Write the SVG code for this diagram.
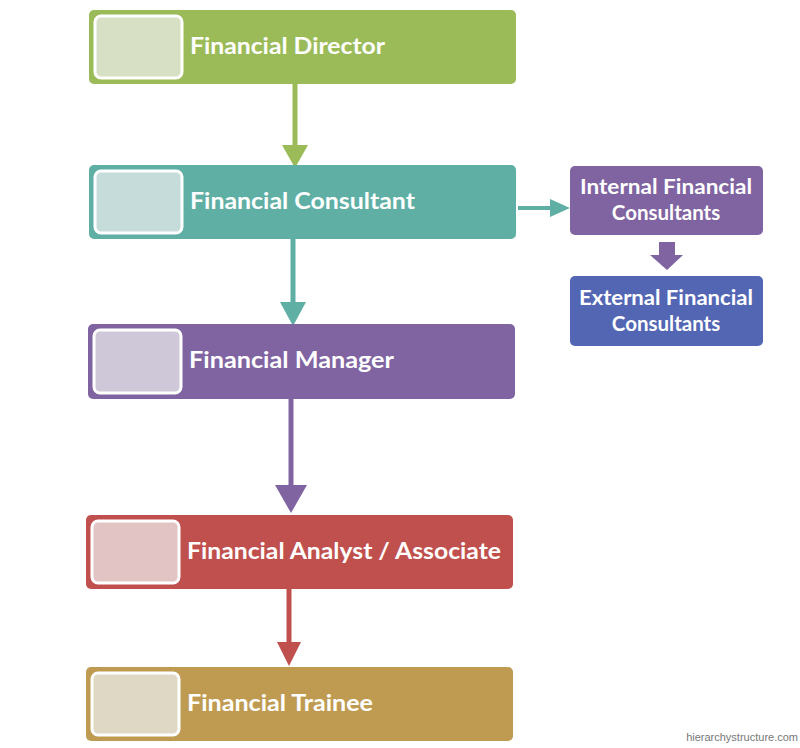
<svg xmlns="http://www.w3.org/2000/svg" width="800" height="748" viewBox="0 0 800 748">
<style>
.t{font-family:Lato,"Open Sans",sans-serif;font-weight:bold;fill:#fff;font-size:23.5px}
.s{font-family:Lato,"Open Sans",sans-serif;font-weight:bold;fill:#fff;font-size:20.5px;text-anchor:middle}
.in{stroke:#fff;stroke-width:3}
</style>
<rect width="800" height="748" fill="#fff"/>
<g id="connectors" stroke-width="5" fill="none">
<line x1="295" y1="84" x2="295" y2="148" stroke="#9BBB59"/><path d="M282,145 L308,145 L295,168 Z" fill="#9BBB59" stroke="none"/>
<line x1="293" y1="239" x2="293" y2="305" stroke="#5FAFA5"/><path d="M280,302 L306,302 L293,326 Z" fill="#5FAFA5" stroke="none"/>
<line x1="291" y1="399" x2="291" y2="490" stroke="#8064A2"/><path d="M275,485 L307,485 L291,513 Z" fill="#8064A2" stroke="none"/>
<line x1="289" y1="589" x2="289" y2="645" stroke="#C0504D"/><path d="M277,642 L301,642 L289,666 Z" fill="#C0504D" stroke="none"/>
<line x1="518" y1="208" x2="552" y2="208" stroke="#5FAFA5" stroke-width="4"/><path d="M550,199 L570,208 L550,217 Z" fill="#5FAFA5" stroke="none"/>
<path d="M659,242 L675,242 L675,255 L683,255 L667,270 L650,255 L659,255 Z" fill="#8064A2" stroke="none"/>
</g>
<g id="n1"><rect x="89" y="10" width="427" height="74" rx="5" fill="#9BBB59"/><rect class="in" x="95" y="16" width="87" height="62" rx="6" fill="#D7E0C5"/><text class="t" x="190" y="54" textLength="195" lengthAdjust="spacingAndGlyphs">Financial Director</text></g>
<g id="n2"><rect x="89" y="165" width="427" height="74" rx="5" fill="#5FAFA5"/><rect class="in" x="95" y="171" width="87" height="62" rx="6" fill="#C5DCDA"/><text class="t" x="190" y="209" textLength="225" lengthAdjust="spacingAndGlyphs">Financial Consultant</text></g>
<g id="n3"><rect x="88" y="324" width="427" height="75" rx="5" fill="#8064A2"/><rect class="in" x="94" y="330" width="87" height="63" rx="6" fill="#CEC8D9"/><text class="t" x="189" y="368" textLength="205" lengthAdjust="spacingAndGlyphs">Financial Manager</text></g>
<g id="n4"><rect x="86" y="515" width="427" height="74" rx="5" fill="#C0504D"/><rect class="in" x="92" y="521" width="87" height="62" rx="6" fill="#E2C4C5"/><text class="t" x="187" y="559" textLength="314" lengthAdjust="spacingAndGlyphs">Financial Analyst / Associate</text></g>
<g id="n5"><rect x="86" y="667" width="427" height="74" rx="5" fill="#BF9B52"/><rect class="in" x="92" y="673" width="87" height="62" rx="6" fill="#DED8C5"/><text class="t" x="187" y="711" textLength="186" lengthAdjust="spacingAndGlyphs">Financial Trainee</text></g>
<g id="n6"><rect x="570" y="166" width="193" height="69" rx="5" fill="#8064A2"/><text class="s" x="666" y="194" textLength="172" lengthAdjust="spacingAndGlyphs">Internal Financial</text><text class="s" x="666" y="220">Consultants</text></g>
<g id="n7"><rect x="570" y="276" width="193" height="70" rx="5" fill="#5366B4"/><text class="s" x="666" y="305" textLength="174" lengthAdjust="spacingAndGlyphs">External Financial</text><text class="s" x="666" y="331">Consultants</text></g>
<text x="798" y="741" text-anchor="end" font-family="Liberation Sans,sans-serif" font-size="11" fill="#777">hierarchystructure.com</text>
</svg>
